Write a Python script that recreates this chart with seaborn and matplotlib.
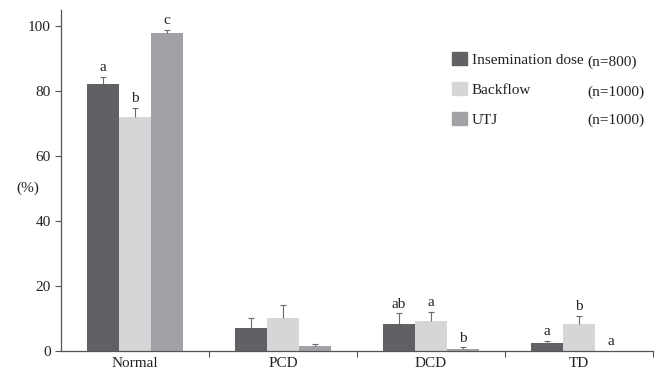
import matplotlib
matplotlib.use('Agg')
import matplotlib.pyplot as plt
import matplotlib.patches as mpatches
import pandas as pd
import seaborn as sns

# Data.
categories = ['Normal', 'PCD', 'DCD', 'TD']
groups = ['Insemination dose', 'Backflow', 'UTJ']
group_n = ['(n=800)', '(n=1000)', '(n=1000)']
insemination = [82.2, 7.2, 8.2, 2.4]
backflow = [72.2, 10.2, 9.2, 8.3]
utj = [97.8, 1.4, 0.6, 0.0]
insemination_err = [2.3, 3.0, 3.4, 0.7]
backflow_err = [2.6, 4.0, 2.9, 2.5]
utj_err = [1.0, 0.8, 0.5, 0.0]
insemination_sig = ['a', '', 'ab', 'a']
backflow_sig = ['b', '', 'a', 'b']
utj_sig = ['c', '', 'b', 'a']
colors = ['#616165', '#d5d6d8', '#a1a2a6']

values = [insemination, backflow, utj]
errors = [insemination_err, backflow_err, utj_err]
letters = [insemination_sig, backflow_sig, utj_sig]

df = pd.DataFrame({
    'category': categories * 3,
    'group': [g for g in groups for _ in categories],
    'value': insemination + backflow + utj,
})

sns.set_style('white')
plt.rcParams['font.family'] = ['Liberation Serif', 'DejaVu Serif']

fig = plt.figure(figsize=(6.56, 3.71), dpi=100)
ax = fig.add_axes([61 / 656, 1 - 351 / 371, 592 / 656, 341 / 371])

sns.barplot(data=df, x='category', y='value', hue='group', order=categories,
            hue_order=groups, palette=colors, width=0.65, saturation=1,
            errorbar=None, legend=False, linewidth=0, ax=ax)

# Upward-only error bars and significance letters.
for container, err, sig in zip(ax.containers, errors, letters):
    for bar, e, s in zip(container.patches, err, sig):
        bar.set_edgecolor(bar.get_facecolor())
        x = bar.get_x() + bar.get_width() / 2
        h = bar.get_height()
        if e > 0:
            ax.vlines(x, h, h + e, color='#6a6a6a', linewidth=0.8)
            ax.plot([x], [h + e], marker='_', markersize=4, markeredgewidth=0.8,
                    color='#6a6a6a')
        if s:
            ax.annotate(s, (x, h + e), xytext=(0, 2), textcoords='offset points',
                        ha='center', va='bottom', fontsize=11, color='#222222')

ax.set_xlim(-0.5, 3.5)
ax.set_ylim(0, 105)
ax.set_yticks([0, 20, 40, 60, 80, 100])
ax.set_xlabel('')
ax.set_ylabel('')
ax.set_xticks(range(4))
ax.set_xticklabels(categories)
ax.set_xticks([0.5, 1.5, 2.5, 3.5], minor=True)
ax.tick_params(axis='x', which='major', length=0, labelsize=11, pad=4, colors='#222222')
ax.tick_params(axis='x', which='minor', length=4, width=0.8, direction='out', color='#555555')
ax.tick_params(axis='y', length=4, width=0.8, direction='out', labelsize=11, colors='#222222', color='#555555')
ax.tick_params(bottom=True, left=True, which='both')
sns.despine(ax=ax)
for sp in ['left', 'bottom']:
    ax.spines[sp].set_color('#555555')
    ax.spines[sp].set_linewidth(0.9)

fig.text(28 / 656, 1 - 188 / 371, '(%)', ha='center', va='center', fontsize=11, color='#222222')

handles = [mpatches.Patch(color=c, label=g) for c, g in zip(colors, groups)]
fig.legend(handles=handles, loc='upper left', bbox_to_anchor=(452 / 656, 1 - 52 / 371),
           frameon=False, fontsize=11, handlelength=0.95, handleheight=0.95,
           handletextpad=0.35, labelspacing=1.0, borderpad=0, borderaxespad=0,
           labelcolor='#222222')
for n, y in zip(group_n, [62, 92, 120]):
    fig.text(587 / 656, 1 - y / 371, n, ha='left', va='center', fontsize=11, color='#222222')

fig.savefig('out.png', dpi=100)
